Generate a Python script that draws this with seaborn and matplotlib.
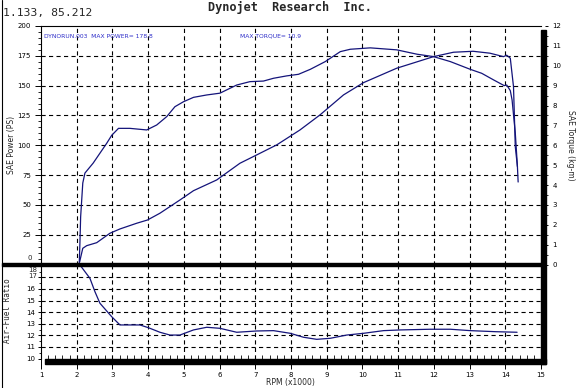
import numpy as np
import pandas as pd
import matplotlib
matplotlib.use("Agg")
import matplotlib.pyplot as plt
from matplotlib.patches import Rectangle
from matplotlib.lines import Line2D
from matplotlib.ticker import MultipleLocator, FuncFormatter
import seaborn as sns

# ---------------- data ----------------
torque_rpm = [2.07, 2.09, 2.11, 2.17, 2.23, 2.46, 2.65, 2.84, 2.98, 3.17, 3.49, 3.96, 4.24, 4.52,
              4.75, 4.99, 5.27, 5.64, 6.01, 6.48, 6.85, 7.23, 7.51, 7.88, 8.21, 8.54, 8.96, 9.38,
              9.66, 10.22, 10.96, 11.53, 11.99, 12.46, 13.02, 13.34, 13.67, 13.97, 14.04, 14.14,
              14.19, 14.28, 14.34, 14.36]
torque_kgm = [0.0, 1.1, 2.4, 4.1, 4.6, 5.1, 5.6, 6.1, 6.5, 6.85, 6.85, 6.77, 7.02, 7.44,
              7.94, 8.19, 8.41, 8.53, 8.62, 9.03, 9.20, 9.23, 9.37, 9.49, 9.57, 9.82, 10.21, 10.71,
              10.83, 10.90, 10.80, 10.58, 10.46, 10.21, 9.82, 9.62, 9.29, 9.00, 9.03, 8.75,
              8.28, 6.62, 4.92, 4.15]

power_rpm = [2.08, 2.17, 2.28, 2.56, 2.93, 3.21, 3.68, 3.98, 4.33, 4.89, 5.27, 5.92, 6.57, 7.04,
             7.60, 8.25, 8.81, 9.47, 10.03, 10.96, 11.99, 12.55, 13.10, 13.57, 13.95, 14.04, 14.14,
             14.23, 14.28, 14.34]
power_ps = [2.0, 13.6, 15.8, 18.3, 26.2, 29.8, 34.6, 37.3, 43.0, 54.1, 61.9, 70.9, 84.9, 91.9,
            100.3, 112.8, 125.4, 142.2, 152.5, 164.6, 174.3, 178.0, 178.8, 177.2, 174.3, 175.5, 173.0,
            149.2, 98.8, 82.1]

afr_rpm = [2.09, 2.37, 2.51, 2.65, 2.98, 3.21, 3.77, 4.01, 4.33, 4.61, 4.89, 5.27, 5.64, 6.01,
           6.48, 7.04, 7.51, 7.98, 8.35, 8.72, 9.10, 9.56, 10.03, 10.59, 11.06, 11.90, 12.46,
           13.02, 13.72, 14.33]
afr_val = [18.07, 16.92, 15.77, 14.77, 13.61, 12.90, 12.90, 12.66, 12.27, 12.03, 12.03, 12.47, 12.70, 12.61,
           12.27, 12.38, 12.41, 12.18, 11.84, 11.66, 11.75, 12.03, 12.18, 12.41, 12.47, 12.53, 12.53,
           12.41, 12.32, 12.27]

rpm_ticks = list(range(1, 16))
power_ticks = list(range(0, 201, 25))
torque_ticks = list(range(0, 13))
afr_ticks = list(range(10, 19))

title = "Dynojet  Research  Inc."
coords = "1.133, 85.212"
run_note = "DYNORUN.003  MAX POWER= 178.8"
torque_note = "MAX TORQUE= 10.9"

# ---------------- style ----------------
sns.set_theme(style="white")
plt.rcParams['font.family'] = ['DejaVu Sans']
plt.rcParams['lines.scale_dashes'] = False

W, H = 579, 388
fig = plt.figure(figsize=(W / 100, H / 100), dpi=100)
fig.patch.set_facecolor("white")

def fx(px):
    return px / W

def fy(py):
    return 1 - py / H

L, R = 41, 541
T_TOP, T_BOT = 26, 264.5
B_TOP, B_BOT = 264.5, 358.6

line_col = "#14147a"
grid_kw = dict(color="black", lw=0.8, linestyle=(0, (3.0, 2.4)))

ax = fig.add_axes([fx(L), fy(T_BOT), (R - L) / W, (T_BOT - T_TOP) / H])
axb = fig.add_axes([fx(L), fy(B_BOT), (R - L) / W, (B_BOT - B_TOP) / H])
ax2 = ax.twinx()

df_t = pd.DataFrame({"rpm": torque_rpm, "torque": torque_kgm})
df_p = pd.DataFrame({"rpm": power_rpm, "power": power_ps})
df_a = pd.DataFrame({"rpm": afr_rpm, "afr": afr_val})

sns.lineplot(data=df_p, x="rpm", y="power", ax=ax, sort=False, estimator=None,
             color=line_col, lw=0.9)
sns.lineplot(data=df_t, x="rpm", y="torque", ax=ax2, sort=False, estimator=None,
             color=line_col, lw=0.9)
sns.lineplot(data=df_a, x="rpm", y="afr", ax=axb, sort=False, estimator=None,
             color=line_col, lw=0.9)

# ----- top panel -----
ax.set_xlim(1, 15)
ax.set_ylim(0, 200)
ax2.set_ylim(0, 12)
ax.set_xlabel("")
ax.set_ylabel("")
ax2.set_ylabel("")
ax.set_xticks([])
ax.set_yticks(power_ticks)
ax.yaxis.set_major_formatter(FuncFormatter(lambda v, p: "" if v == 0 else f"{v:g}"))
ax.yaxis.set_minor_locator(MultipleLocator(5))
ax.tick_params(axis="y", which="major", direction="out", length=4.3, width=0.7,
               labelsize=5, pad=3, colors="black", left=True)
ax.tick_params(axis="y", which="minor", direction="out", length=2.2, width=0.7, left=True)
for x in rpm_ticks[1:-1]:
    ax.axvline(x, **grid_kw, zorder=0.5)
for y in power_ticks[1:-1]:
    ax.axhline(y, **grid_kw, zorder=0.5)
for s in ["left", "top"]:
    ax.spines[s].set_visible(True)
    ax.spines[s].set_color("black")
    ax.spines[s].set_linewidth(0.8)
ax.spines["right"].set_visible(False)
ax.spines["bottom"].set_visible(False)

ax2.set_yticks(torque_ticks)
ax2.yaxis.set_minor_locator(MultipleLocator(0.5))
ax2.spines["right"].set_position(("outward", 3.2))
ax2.spines["right"].set_visible(False)
for s in ["left", "top", "bottom"]:
    ax2.spines[s].set_visible(False)
ax2.tick_params(axis="y", which="major", direction="out", length=2.5, width=0.7,
                labelsize=5, pad=2.5, colors="black", right=True)
ax2.tick_params(axis="y", which="minor", direction="out", length=2.0, width=0.7, right=True)

# ----- bottom panel -----
axb.set_xlim(1, 15)
axb.set_ylim(10, 18.11)
axb.set_xlabel("")
axb.set_ylabel("")
axb.set_xticks(rpm_ticks)
axb.set_yticks(afr_ticks)
axb.yaxis.set_major_formatter(FuncFormatter(lambda v, p: "" if v >= 17 else f"{v:g}"))
axb.xaxis.set_minor_locator(MultipleLocator(0.2))
axb.yaxis.set_minor_locator(MultipleLocator(0.5))
axb.tick_params(axis="x", which="major", direction="out", length=7.5, width=0.7,
                labelsize=5, pad=2.5, colors="black", bottom=True)
axb.tick_params(axis="x", which="minor", direction="in", length=2.8, width=0.7, bottom=True)
axb.tick_params(axis="y", which="major", direction="out", length=2.5, width=0.7,
                labelsize=5, pad=1.5, colors="black", left=True)
axb.tick_params(axis="y", which="minor", direction="out", length=1.8, width=0.7, left=True)
for x in rpm_ticks[1:-1]:
    axb.axvline(x, **grid_kw, zorder=0.5)
for y in afr_ticks[1:-1]:
    axb.axhline(y, **grid_kw, zorder=0.5)
axb.spines["left"].set_visible(True)
axb.spines["left"].set_color("black")
axb.spines["left"].set_linewidth(0.8)
for s in ["top", "right", "bottom"]:
    axb.spines[s].set_visible(False)

# squeezed labels near the divider (as in the reference)
fig.text(fx(31.5), fy(258.5), "0", ha="right", va="center", fontsize=5)
fig.text(fx(37.5), fy(269.5), "18", ha="right", va="center", fontsize=5)
fig.text(fx(37.5), fy(275.5), "17", ha="right", va="center", fontsize=5)

# ----- frame decorations (figure coords) -----
fig.add_artist(Rectangle((fx(R), fy(364)), 4.5 / W, (364 - 30) / H,
                         transform=fig.transFigure, color="black", zorder=10))
fig.add_artist(Rectangle((fx(45), fy(364)), (545.5 - 45) / W, 5 / H,
                         transform=fig.transFigure, color="black", zorder=10))
fig.add_artist(Rectangle((fx(2), fy(266)), (R - 2) / W, 2.6 / H,
                         transform=fig.transFigure, color="black", zorder=10))
fig.add_artist(Line2D([fx(1.5), fx(1.5)], [0, 1], transform=fig.transFigure,
                      color="black", lw=0.8, zorder=10))

# ----- texts -----
fig.text(fx(290), fy(8), title, ha="center", va="center", fontsize=8.6,
         fontweight="bold", family=["DejaVu Sans Mono"])
fig.text(fx(3), fy(13), coords, ha="left", va="center", fontsize=8.2,
         family=["DejaVu Sans Mono"])
fig.text(fx(44), fy(36), run_note, ha="left", va="center", fontsize=4.3, color="#2b2bc8")
fig.text(fx(240), fy(36), torque_note, ha="left", va="center", fontsize=4.3, color="#2b2bc8")
fig.text(fx(12), fy(145), "SAE Power (PS)", ha="center", va="center", rotation=90, fontsize=5.5)
fig.text(fx(571), fy(145), "SAE Torque (kg-m)", ha="center", va="center", rotation=-90, fontsize=5.5)
fig.text(fx(8), fy(311), "Air-Fuel Ratio", ha="center", va="center", rotation=90, fontsize=5.5,
         family=["DejaVu Sans Mono"])
fig.text(fx(290), fy(383), "RPM (x1000)", ha="center", va="center", fontsize=5.5)

fig.savefig("out.png", dpi=100, facecolor="white")
